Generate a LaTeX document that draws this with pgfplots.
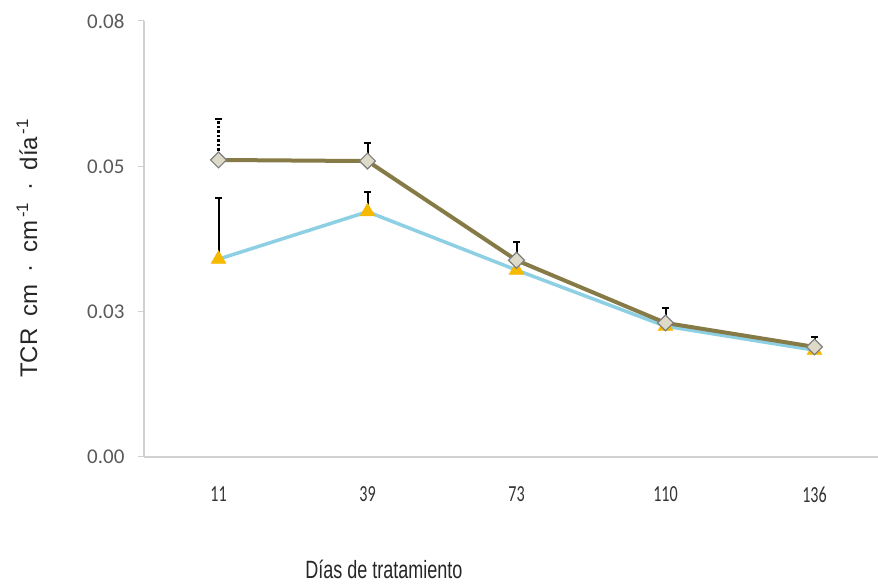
\documentclass[border=0pt]{standalone}
\usepackage{fontspec}
\usepackage{pgfplots}
\pgfplotsset{compat=1.18}
\setmainfont{Carlito}
\newfontfamily\xtickfont[FakeStretch=0.7]{Carlito}
\newfontfamily\arialfont{Liberation Sans}
\newfontfamily\narrowfont[FakeStretch=0.72]{Liberation Sans}
\definecolor{olive1}{RGB}{134,122,70}
\definecolor{blue1}{RGB}{141,207,227}
\definecolor{tri}{RGB}{245,185,0}
\definecolor{diafill}{RGB}{222,218,200}
\definecolor{axgray}{RGB}{208,208,208}
\definecolor{lblgray}{RGB}{89,89,89}
\newcommand{\wsp}{\hspace{0.5em}}
\begin{document}
\begin{tikzpicture}
\path[use as bounding box] (0,0) rectangle (878pt,585pt);
\clip (0,0) rectangle (878pt,585pt);
\begin{axis}[
  at={(144pt,128pt)}, anchor=south west,
  scale only axis, width=745pt, height=436pt,
  xmin=-0.5, xmax=4.5, ymin=0, ymax=0.08,
  axis x line=bottom, axis y line=left,
  axis line style={-, draw=axgray, line width=1.5pt},
  xtick={0,1,2,3,4}, xticklabels={11,39,73,110,136},
  xtick style={draw=none},
  ytick={0,0.026667,0.053333,0.08},
  yticklabels={0.00,0.03,0.05,0.08},
  scaled y ticks=false,
  ytick style={draw=axgray, line width=1pt},
  tick align=outside, major tick length=6pt,
  yticklabel style={font=\fontsize{21}{23}\selectfont, text=lblgray, xshift=-10pt},
  xticklabel style={font=\xtickfont\fontsize{23}{25}\selectfont, text=black!80, yshift=-20pt},
  xlabel={Días de tratamiento},
  xlabel style={font=\narrowfont\fontsize{25}{27}\selectfont, at={(rel axis cs:0.322,-0.258)}, anchor=center, text=black!85},
  ylabel={TCR\wsp cm\wsp ·\wsp cm\textsuperscript{\,-1}\wsp ·\wsp día\textsuperscript{\,-1}},
  ylabel style={font=\arialfont\fontsize{24}{26}\selectfont, at={(rel axis cs:-0.157,0.479)}, anchor=center, text=black!85},
  clip=false,
]
% error bars (series 1, dotted at day 11)
\addplot[forget plot, draw=none, mark=none,
  error bars/.cd, y dir=plus, y explicit,
  error bar style={draw=black, line width=2.5pt, dotted},
  error mark options={rotate=90, mark size=3.5pt, solid, draw=black, line width=2pt}]
  coordinates {(0,0.0545) +- (0,0.0075)};
\addplot[forget plot, draw=none, mark=none,
  error bars/.cd, y dir=plus, y explicit,
  error bar style={draw=black, line width=2pt},
  error mark options={rotate=90, mark size=3.5pt, draw=black, line width=2pt}]
  coordinates {(1,0.0543) +- (0,0.0033) (2,0.0361) +- (0,0.0033) (3,0.0246) +- (0,0.0027) (4,0.0202) +- (0,0.0018)};
% error bars series 2
\addplot[forget plot, draw=none, mark=none,
  error bars/.cd, y dir=plus, y explicit,
  error bar style={draw=black, line width=2pt},
  error mark options={rotate=90, mark size=3.5pt, draw=black, line width=2pt}]
  coordinates {(0,0.0363) +- (0,0.0112) (1,0.0450) +- (0,0.0036) (2,0.0343) +- (0,0.0020)};
% series 2: triangles
\addplot[blue1, line width=3.5pt, mark=triangle*, mark size=8.5pt,
  mark options={fill=tri, draw=tri, line width=0.5pt}]
  coordinates {(0,0.0363) (1,0.0450) (2,0.0343) (3,0.0240) (4,0.0196)};
% series 1: diamonds
\addplot[olive1, line width=4pt, mark=square*, mark size=5.6pt,
  mark options={rotate=45, fill=diafill, draw=gray, line width=1.2pt}]
  coordinates {(0,0.0545) (1,0.0543) (2,0.0361) (3,0.0246) (4,0.0202)};
\end{axis}
\end{tikzpicture}
\end{document}
